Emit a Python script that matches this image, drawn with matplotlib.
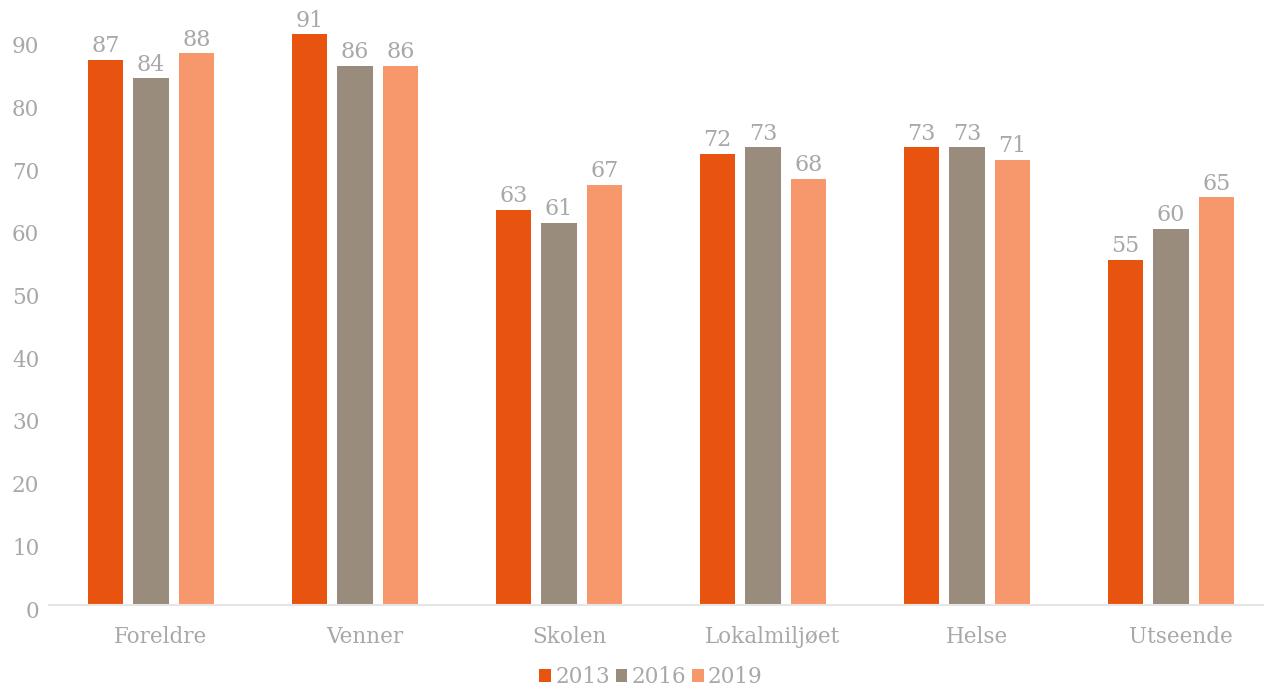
import matplotlib
matplotlib.use("Agg")
import matplotlib.pyplot as plt
import matplotlib.transforms as mtransforms
from matplotlib.patches import Patch
import numpy as np

categories = ["Foreldre", "Venner", "Skolen", "Lokalmiljøet", "Helse", "Utseende"]
years = ["2013", "2016", "2019"]
values_2013 = [87, 91, 63, 72, 73, 55]
values_2016 = [84, 86, 61, 73, 73, 60]
values_2019 = [88, 86, 67, 68, 71, 65]
y_ticks = [0, 10, 20, 30, 40, 50, 60, 70, 80, 90]

colors = ["#E8540F", "#9A8C7C", "#F6976C"]
text_color = "#A8A8A8"
font = ["DejaVu Serif"]

plt.rcParams["font.family"] = font

W, H = 1264, 688
fig = plt.figure(figsize=(W / 100, H / 100), dpi=100)
ax_left, ax_bottom = 49 / W, (H - 605) / H
ax = fig.add_axes([ax_left, ax_bottom, 1 - ax_left, 1 - ax_bottom])

x = np.arange(len(categories))
width = 0.176
step = 0.223
series = [values_2013, values_2016, values_2019]
for i, (vals, c) in enumerate(zip(series, colors)):
    bars = ax.bar(x + (i - 1) * step, vals, width=width, color=c, zorder=2)
    for b, v in zip(bars, vals):
        ax.annotate(str(v), (b.get_x() + b.get_width() / 2, v),
                    xytext=(0, 2), textcoords="offset points",
                    ha="center", va="bottom", fontsize=16, color=text_color)

ax.set_xlim(-0.5, 5.456)
ax.set_ylim(0, 96.5)
ax.set_yticks(y_ticks)
ax.set_yticklabels([str(t) for t in y_ticks])
ax.set_xticks(x)
ax.set_xticklabels(categories)
ax.tick_params(axis="both", length=0, colors=text_color)
ax.tick_params(axis="y", pad=7, labelsize=15.5)
ax.tick_params(axis="x", pad=15, labelsize=15.5)
shift_x = mtransforms.ScaledTranslation(10 / 100, 0, fig.dpi_scale_trans)
for lab in ax.get_xticklabels():
    lab.set_transform(lab.get_transform() + shift_x)
shift_y = mtransforms.ScaledTranslation(0, -4 / 100, fig.dpi_scale_trans)
for lab in ax.get_yticklabels():
    lab.set_transform(lab.get_transform() + shift_y)

for s in ["top", "right", "left"]:
    ax.spines[s].set_visible(False)
ax.spines["bottom"].set_color("#E6E6E6")
ax.spines["bottom"].set_linewidth(1.5)
ax.set_facecolor("white")

handles = [Patch(facecolor=c, edgecolor="none") for c in colors]
fig.legend(handles, years, loc="lower center", bbox_to_anchor=(0.515, -0.028),
           ncol=3, frameon=False, fontsize=15.5, labelcolor=text_color,
           handlelength=0.55, handleheight=0.55, handletextpad=0.2,
           columnspacing=0.25)

fig.savefig("out.png", dpi=100)
